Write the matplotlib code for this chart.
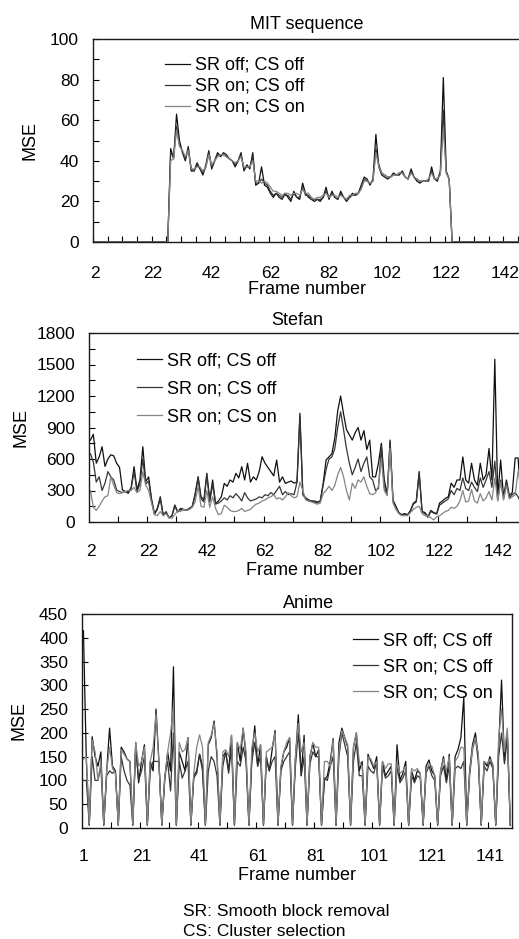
import numpy as np
import matplotlib
matplotlib.use("Agg")
import matplotlib.pyplot as plt
from matplotlib.ticker import MultipleLocator, FixedLocator

plt.rcParams['font.family'] = ['Liberation Sans', 'DejaVu Sans']

series_names = ["SR off; CS off", "SR on; CS off", "SR on; CS on"]
line_colors = ["#101010", "#363636", "#858585"]

# ---------------- MIT sequence (frames 2..147) ----------------
mit_frames = list(range(2, 148))
mit_lead = [0] * 26          # frames 2..27
mit_tail = [0] * 23          # frames 125..147
mit_a = [46, 41, 63, 50, 44, 40, 47, 35, 35, 39,
         36, 33, 38, 45, 36, 40, 44, 42, 44, 43,
         41, 40, 37, 40, 44, 35, 38, 36, 44, 28,
         29, 37, 28, 27, 24, 22, 24, 22, 21, 24,
         22, 20, 25, 22, 21, 29, 24, 22, 21, 20,
         21, 20, 22, 27, 21, 25, 22, 21, 25, 22,
         20, 22, 24, 23, 24, 28, 32, 31, 28, 31,
         53, 37, 33, 32, 31, 32, 34, 33, 33, 35,
         32, 31, 36, 32, 30, 29, 30, 30, 30, 37,
         31, 30, 35, 81, 35, 31, 0]
mit_b = [44, 42, 57, 48, 45, 41, 46, 36, 35, 38,
         36, 34, 37, 44, 37, 40, 43, 43, 43, 42,
         41, 40, 38, 40, 43, 36, 37, 37, 42, 29,
         29, 31, 29, 28, 25, 23, 24, 23, 22, 23,
         23, 21, 24, 22, 22, 27, 23, 23, 21, 21,
         21, 21, 22, 25, 22, 24, 22, 21, 24, 22,
         21, 22, 23, 23, 24, 27, 31, 30, 29, 30,
         46, 38, 34, 33, 32, 32, 33, 33, 34, 34,
         32, 31, 35, 32, 31, 30, 30, 30, 31, 35,
         31, 31, 34, 65, 34, 31, 0]
mit_c = [40, 41, 55, 47, 45, 42, 45, 36, 36, 37,
         37, 35, 37, 43, 38, 40, 42, 43, 43, 42,
         41, 40, 39, 40, 42, 37, 37, 37, 40, 30,
         30, 29, 30, 29, 27, 25, 25, 24, 23, 24,
         24, 23, 24, 24, 23, 26, 24, 24, 22, 21,
         22, 22, 23, 24, 22, 23, 23, 22, 23, 22,
         21, 23, 23, 24, 24, 26, 30, 30, 29, 30,
         44, 37, 34, 33, 32, 32, 33, 33, 34, 34,
         32, 31, 34, 32, 31, 30, 30, 30, 31, 34,
         31, 31, 33, 56, 34, 31, 0]
mit_series = [mit_lead + mit_a + mit_tail,
              mit_lead + mit_b + mit_tail,
              mit_lead + mit_c + mit_tail]

# ---------------- Stefan (frames 2..150) ----------------
stefan_frames = list(range(2, 151))
stefan_a = [780, 835, 560, 620, 717, 530, 600, 640, 630, 560,
            520, 305, 290, 273, 330, 527, 305, 400, 717, 384,
            430, 220, 80, 130, 240, 67, 98, 40, 60, 162,
            98, 130, 120, 114, 130, 150, 273, 432, 241, 210,
            464, 210, 400, 178, 200, 241, 368, 340, 400, 380,
            464, 420, 527, 400, 559, 380, 430, 400, 480, 622,
            560, 520, 480, 440, 590, 380, 430, 368, 380, 390,
            370, 380, 1035,
            270, 230, 210, 200, 200, 190, 200, 370, 590, 620,
            650, 800, 1060, 1200, 1030, 880, 830, 780, 850, 900,
            780, 870, 690, 780, 430, 430, 560, 750, 400, 270,
            780, 210, 150, 90, 70, 80, 70, 110, 180, 200,
            480, 100, 90, 50, 110, 90, 80, 180, 200, 225,
            240, 370, 330, 400, 400, 620, 400, 370, 560, 400,
            350, 560, 400, 450, 700, 400, 1550, 240, 590, 240,
            400, 250, 280, 610, 610, 200]
stefan_b = [650, 570, 380, 430, 300, 370, 480, 430, 400, 305,
            290, 280, 290, 290, 320, 480, 290, 360, 600, 360,
            390, 200, 70, 120, 220, 60, 90, 40, 55, 150,
            95, 120, 115, 110, 125, 145, 250, 420, 220, 190,
            450, 190, 360, 170, 180, 200, 230, 210, 250, 230,
            270, 240, 200, 280, 230, 200, 210, 220, 240, 230,
            260, 250, 280, 260, 300, 340, 260, 290, 260, 270,
            260, 380, 1000,
            260, 220, 200, 200, 190, 180, 200, 350, 500, 600,
            620, 700, 900, 1050, 880, 700, 560, 450, 520, 600,
            480, 560, 620, 430, 400, 300, 320, 720, 330, 260,
            760, 200, 140, 85, 65, 75, 65, 100, 170, 190,
            460, 95, 80, 45, 100, 85, 75, 160, 180, 200,
            220, 300, 260, 320, 300, 420, 320, 300, 380, 330,
            290, 420, 330, 400, 480, 330, 580, 210, 400, 220,
            380, 230, 260, 280, 240, 180]
stefan_c = [300, 140, 110, 150, 200, 240, 250, 430, 350, 280,
            270, 280, 290, 300, 300, 330, 280, 300, 480, 350,
            300, 180, 70, 60, 100, 60, 80, 40, 35, 70,
            110, 100, 120, 110, 120, 140, 190, 340, 150, 140,
            300, 140, 240, 130, 70, 80, 160, 140, 110, 100,
            100, 110, 130, 100, 110, 120, 150, 170, 180, 200,
            210, 230, 240, 260, 220, 230, 210, 240, 280, 250,
            230, 240, 380,
            300, 210, 200, 190, 180, 170, 180, 270, 300, 340,
            300, 350, 450, 520, 430, 300, 210, 370, 320, 400,
            380, 430, 340, 270, 260, 280, 340, 600, 300, 250,
            700, 180, 120, 80, 60, 60, 60, 90, 120, 140,
            150, 80, 60, 60, 40, 20, 50, 60, 80, 100,
            110, 140, 130, 150, 200, 300, 190, 200, 310, 200,
            180, 270, 200, 230, 290, 210, 420, 200, 380, 210,
            350, 220, 240, 260, 480, 520]
stefan_series = [stefan_a, stefan_b, stefan_c]

# ---------------- Anime (frames 1..148) ----------------
anime_frames = list(range(1, 149))
anime_a = [415, 140, 6,
           192, 150, 130, 160, 6, 120, 210, 130, 120, 6,
           170, 160, 145, 140, 6, 180, 95, 140, 175, 6,
           140, 120, 250, 140, 6, 100, 160, 120, 339, 6,
           160, 140, 120, 190, 6, 110, 120, 155, 130, 6,
           175, 190, 225, 150, 6, 150, 160, 120, 195, 6,
           180, 140, 210, 150, 6, 150, 215, 130, 175, 6,
           150, 120, 165, 205, 6, 125, 160, 170, 190, 6,
           145, 238, 110, 195, 6, 150, 178, 150, 165, 6,
           100, 110, 140, 188, 6, 180, 210, 190, 170, 6,
           170, 200, 120, 140, 6, 155, 140, 125, 150, 6,
           140, 110, 120, 130, 6, 175, 100, 115, 140, 6,
           120, 100, 120, 115, 6, 130, 143, 120, 110, 6,
           120, 150, 100, 155, 6, 150, 165, 190, 276, 6,
           120, 175, 200, 150, 6, 140, 130, 150, 130, 6,
           170, 311, 140, 205, 6]
anime_b = [100, 100, 6,
           150, 100, 100, 130, 6, 110, 120, 115, 120, 6,
           150, 120, 100, 90, 6, 170, 100, 120, 150, 6,
           120, 140, 140, 140, 6, 110, 140, 78, 200, 6,
           140, 105, 120, 140, 6, 105, 115, 155, 120, 6,
           120, 150, 140, 110, 6, 130, 160, 115, 170, 6,
           140, 130, 170, 140, 6, 140, 180, 130, 150, 6,
           145, 120, 140, 150, 6, 120, 140, 150, 160, 6,
           130, 200, 110, 150, 6, 135, 160, 150, 150, 6,
           105, 100, 130, 150, 6, 150, 200, 175, 150, 6,
           140, 180, 110, 110, 6, 130, 120, 115, 140, 6,
           130, 105, 110, 120, 6, 130, 95, 105, 120, 6,
           110, 95, 110, 105, 6, 115, 130, 110, 100, 6,
           110, 130, 95, 130, 6, 125, 130, 125, 140, 6,
           110, 165, 190, 140, 6, 130, 120, 140, 125, 6,
           150, 200, 135, 190, 6]
anime_c = [145, 150, 8,
           185, 160, 100, 140, 8, 120, 170, 125, 115, 8,
           165, 155, 145, 140, 8, 180, 130, 140, 170, 8,
           140, 170, 240, 135, 8, 105, 160, 200, 255, 8,
           180, 160, 165, 190, 8, 115, 170, 196, 170, 8,
           180, 195, 220, 160, 8, 160, 165, 150, 195, 8,
           180, 165, 210, 160, 8, 170, 200, 160, 175, 8,
           160, 165, 170, 200, 8, 130, 160, 180, 190, 8,
           150, 220, 160, 180, 8, 150, 180, 170, 170, 8,
           140, 140, 130, 185, 8, 160, 205, 190, 175, 8,
           170, 200, 140, 130, 8, 150, 145, 130, 140, 8,
           140, 125, 135, 135, 8, 140, 115, 120, 130, 8,
           125, 120, 125, 115, 8, 120, 135, 130, 110, 8,
           120, 145, 120, 150, 8, 140, 150, 170, 168, 8,
           115, 170, 190, 155, 8, 140, 135, 145, 135, 8,
           190, 250, 160, 210, 8]
anime_series = [anime_a, anime_b, anime_c]

W, H = 519, 939
fig = plt.figure(figsize=(W / 100, H / 100), dpi=100)


def px_axes(left, top, right, bottom):
    return fig.add_axes([left / W, 1 - bottom / H, (right - left) / W, (bottom - top) / H])


def style_axes(ax, xlim, ylim, ystep, yminor, xlabels, xminor, xpad):
    ax.set_xlim(*xlim)
    ax.set_ylim(*ylim)
    ax.yaxis.set_major_locator(MultipleLocator(ystep))
    if yminor:
        ax.yaxis.set_minor_locator(MultipleLocator(yminor))
    ax.xaxis.set_major_locator(FixedLocator(xlabels))
    ax.xaxis.set_minor_locator(FixedLocator(xminor))
    ax.tick_params(axis='x', which='major', length=0, pad=xpad, labelsize=12.5)
    ax.tick_params(axis='x', which='minor', direction='in', length=4, width=0.8)
    ax.tick_params(axis='y', which='both', direction='in', length=4, width=0.8,
                   pad=10, labelsize=12.5)
    for s in ax.spines.values():
        s.set_linewidth(1.0)
        s.set_color('#1a1a1a')


def draw(ax, frames, series):
    for vals, col, name in zip(series, line_colors, series_names):
        ax.plot(frames, vals, color=col, lw=0.9, label=name)


def add_legend(ax, left, top, spacing):
    ax.legend(loc='upper left', bbox_to_anchor=(left / W, 1 - top / H),
              bbox_transform=fig.transFigure, frameon=False, fontsize=13,
              borderpad=0, borderaxespad=0, handlelength=1.4, handletextpad=0.25,
              labelspacing=spacing)


# MIT
ax1 = px_axes(93, 39, 521, 242)
draw(ax1, mit_frames, mit_series)
style_axes(ax1, (1.5, 147.5), (0, 100), 20, 10,
           list(range(2, 148, 20)), [x + 0.5 for x in range(1, 147, 5)], 17)
ax1.set_title("MIT sequence", fontsize=13, pad=7)
ax1.set_xlabel("Frame number", fontsize=13, labelpad=0)
ax1.set_ylabel("MSE", fontsize=13, labelpad=8)
add_legend(ax1, 165, 57, 0.22)

# Stefan
ax2 = px_axes(89, 333, 521, 522)
draw(ax2, stefan_frames, stefan_series)
style_axes(ax2, (1.5, 150), (0, 1800), 300, 150,
           list(range(2, 151, 20)), [x + 0.5 for x in range(11, 150, 10)], 16)
ax2.set_title("Stefan", fontsize=13, pad=6, x=0.482)
ax2.set_xlabel("Frame number", fontsize=13, labelpad=2)
ax2.set_ylabel("MSE", fontsize=13, labelpad=5)
add_legend(ax2, 137, 352, 0.62)

# Anime
ax3 = px_axes(82, 614, 512, 828)
draw(ax3, anime_frames, anime_series)
style_axes(ax3, (0.5, 148.6), (0, 450), 50, None,
           list(range(1, 149, 20)), [x + 0.5 for x in range(10, 148, 10)], 15)
ax3.set_title("Anime", fontsize=13, pad=4, x=0.526)
ax3.set_xlabel("Frame number", fontsize=13, labelpad=2)
ax3.set_ylabel("MSE", fontsize=13, labelpad=8)
add_legend(ax3, 353, 632, 0.5)

fig.text(183 / W, 1 - 912 / H, "SR: Smooth block removal", fontsize=12.5, va='center')
fig.text(183 / W, 1 - 932 / H, "CS: Cluster selection", fontsize=12.5, va='center')

fig.savefig("out.png", dpi=100, facecolor='white')
